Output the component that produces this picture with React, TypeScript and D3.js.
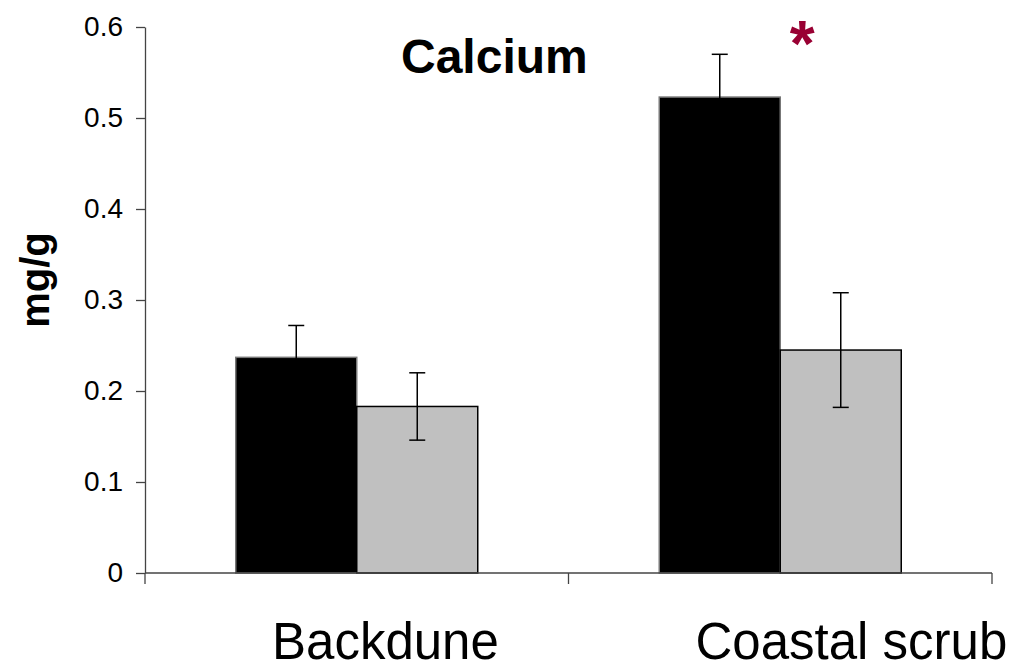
import React, { useEffect, useRef } from 'react';
import * as d3 from 'd3';

const categories = ['Backdune', 'Coastal scrub'];
const seriesKeys = ['dark', 'light'];
const darkValues = [0.237, 0.523];
const darkErrors = [0.035, 0.047];
const lightValues = [0.183, 0.245];
const lightErrors = [0.037, 0.063];
const yTickValues = [0, 0.1, 0.2, 0.3, 0.4, 0.5, 0.6];
const yTickLabels = ['0', '0.1', '0.2', '0.3', '0.4', '0.5', '0.6'];

function App() {
  const ref = useRef<SVGSVGElement>(null);

  useEffect(() => {
    const svg = d3.select(ref.current);
    svg.selectAll('*').remove();

    const font = 'Liberation Sans, Arial, sans-serif';
    const left = 145;
    const right = 992;
    const top = 27;
    const bottom = 573;

    const x = d3.scaleBand().domain(categories).range([left, right]).padding(0);
    const inner = d3.scaleBand().domain(seriesKeys).range([0, x.bandwidth()]).paddingInner(0).paddingOuter(0.75);
    const y = d3.scaleLinear().domain([0, 0.6]).range([bottom, top]);

    const rows = categories.map((c, i) => ({
      cat: c,
      bars: [
        { key: 'dark', v: darkValues[i], e: darkErrors[i], fill: '#000000', stroke: '#777777' },
        { key: 'light', v: lightValues[i], e: lightErrors[i], fill: '#c0c0c0', stroke: '#000000' },
      ],
    }));

    // bars
    const groups = svg.append('g')
      .selectAll('g')
      .data(rows)
      .enter()
      .append('g')
      .attr('transform', (d) => `translate(${x(d.cat)},0)`);

    groups.selectAll('rect')
      .data((d) => d.bars)
      .enter()
      .append('rect')
      .attr('x', (d) => inner(d.key)!)
      .attr('y', (d) => y(d.v))
      .attr('width', inner.bandwidth())
      .attr('height', (d) => y(0) - y(d.v))
      .attr('fill', (d) => d.fill)
      .attr('stroke', (d) => d.stroke)
      .attr('stroke-width', 1.5);

    // error bars
    const err = groups.selectAll('g.err')
      .data((d) => d.bars)
      .enter()
      .append('g')
      .attr('class', 'err')
      .attr('transform', (d) => `translate(${inner(d.key)! + inner.bandwidth() / 2},0)`);

    err.append('line')
      .attr('y1', (d) => y(d.v - d.e))
      .attr('y2', (d) => y(d.v + d.e))
      .attr('stroke', '#000')
      .attr('stroke-width', 1.5);
    err.append('line')
      .attr('x1', -8).attr('x2', 8)
      .attr('y1', (d) => y(d.v + d.e))
      .attr('y2', (d) => y(d.v + d.e))
      .attr('stroke', '#000')
      .attr('stroke-width', 1.5);
    err.append('line')
      .attr('x1', -8).attr('x2', 8)
      .attr('y1', (d) => y(d.v - d.e))
      .attr('y2', (d) => y(d.v - d.e))
      .attr('stroke', '#000')
      .attr('stroke-width', 1.5);

    // y axis
    const yAxis = svg.append('g')
      .attr('transform', `translate(${left},0)`)
      .call(
        d3.axisLeft(y)
          .tickValues(yTickValues)
          .tickFormat((d, i) => yTickLabels[i])
          .tickSize(9)
          .tickPadding(13)
          .tickSizeOuter(0)
      );
    yAxis.select('.domain').attr('stroke', '#444').attr('stroke-width', 1.3);
    yAxis.selectAll('.tick line').attr('stroke', '#444').attr('stroke-width', 1.3);
    yAxis.selectAll('.tick text')
      .attr('font-family', font)
      .attr('font-size', 28)
      .attr('fill', '#000');

    // x axis
    svg.append('line')
      .attr('x1', left).attr('x2', right)
      .attr('y1', y(0)).attr('y2', y(0))
      .attr('stroke', '#444').attr('stroke-width', 1.3);
    const boundaries = [...categories.map((c) => x(c)!), x.range()[1]];
    svg.append('g')
      .selectAll('line')
      .data(boundaries)
      .enter()
      .append('line')
      .attr('x1', (d) => d).attr('x2', (d) => d)
      .attr('y1', y(0)).attr('y2', y(0) + 11)
      .attr('stroke', '#444').attr('stroke-width', 1.3);

    svg.append('g')
      .selectAll('text')
      .data(categories)
      .enter()
      .append('text')
      .attr('x', (d) => x(d)! + 127)
      .attr('y', 659)
      .attr('font-family', font)
      .attr('font-size', 51)
      .attr('fill', '#000')
      .text((d) => d);

    // titles
    svg.append('text')
      .attr('x', 401)
      .attr('y', 73)
      .attr('font-family', font)
      .attr('font-size', 48)
      .attr('font-weight', 'bold')
      .text('Calcium');

    svg.append('text')
      .attr('transform', `translate(49,280) rotate(-90)`)
      .attr('text-anchor', 'middle')
      .attr('font-family', font)
      .attr('font-size', 40)
      .attr('font-weight', 'bold')
      .text('mg/g');

    svg.append('text')
      .attr('x', x(categories[1])! + x.bandwidth() / 2 + 22)
      .attr('y', 66)
      .attr('text-anchor', 'middle')
      .attr('font-family', font)
      .attr('font-size', 64)
      .attr('font-weight', 'bold')
      .attr('fill', '#990033')
      .text('*');
  }, []);

  return (
    <svg
      ref={ref}
      width={1019}
      height={671}
      style={{ position: 'absolute', left: 0, top: 0, background: '#fff' }}
    />
  );
}

export default App;
